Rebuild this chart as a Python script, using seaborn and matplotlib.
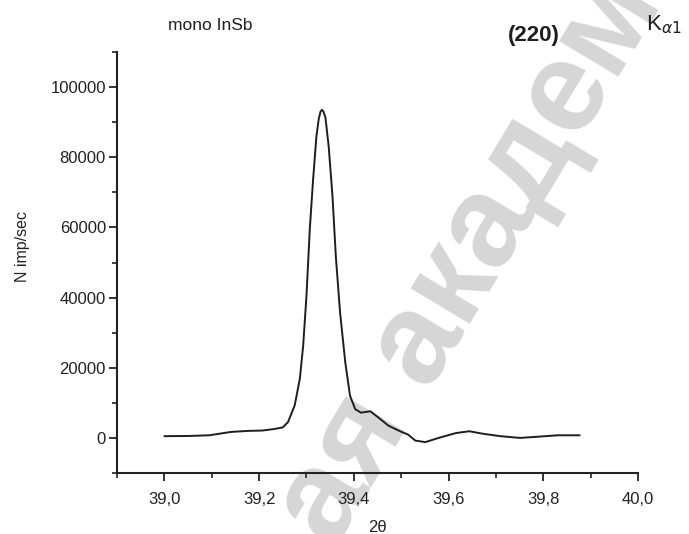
import numpy as np
import pandas as pd
import matplotlib
matplotlib.use("Agg")
import matplotlib.pyplot as plt
import seaborn as sns
from matplotlib.ticker import FixedLocator, MultipleLocator

# ---- data ----
two_theta = [39.000, 39.050, 39.095, 39.140, 39.176, 39.207, 39.233, 39.250,
             39.261, 39.275, 39.286, 39.293, 39.300, 39.307, 39.314, 39.321,
             39.326, 39.330, 39.333, 39.336, 39.340, 39.347, 39.355, 39.362,
             39.371, 39.382, 39.392, 39.403, 39.415, 39.435, 39.452, 39.473,
             39.501, 39.514, 39.530, 39.551, 39.579, 39.616, 39.644, 39.672,
             39.709, 39.751, 39.784, 39.830, 39.877]
intensity = [500, 550, 750, 1700, 2000, 2100, 2560, 3000,
             4500, 9200, 16800, 26200, 40400, 59400, 73600, 85900,
             91000, 93100, 93500, 93000, 91400, 83000, 68800, 51800,
             35700, 21500, 12000, 8200, 7200, 7600, 5800, 3500,
             1700, 1000, -760, -1200, 0, 1400, 1900, 1200,
             500, 0, 300, 750, 750]

x_ticks = [39.0, 39.2, 39.4, 39.6, 39.8, 40.0]
x_tick_labels = ["39,0", "39,2", "39,4", "39,6", "39,8", "40,0"]
y_ticks = [0, 20000, 40000, 60000, 80000, 100000]
y_tick_labels = ["0", "20000", "40000", "60000", "80000", "100000"]

sns.set_style("ticks")
plt.rcParams["font.family"] = ["Liberation Sans", "DejaVu Sans"]
plt.rcParams["mathtext.fontset"] = "dejavusans"

fig = plt.figure(figsize=(6.89, 5.34), dpi=100)
ax = fig.add_axes([117/689, 1-473/534, (638-117)/689, (473-52)/534])
ax.patch.set_alpha(0)

df = pd.DataFrame({"2theta": two_theta, "N": intensity})
sns.lineplot(data=df, x="2theta", y="N", ax=ax, color="#1e1e1e",
             linewidth=1.4, estimator=None, sort=True)

ax.set_xlim(38.9, 40.0)
ax.set_ylim(-10000, 110000)
ax.xaxis.set_major_locator(FixedLocator(x_ticks))
ax.set_xticklabels(x_tick_labels)
ax.xaxis.set_minor_locator(MultipleLocator(0.1))
ax.yaxis.set_major_locator(FixedLocator(y_ticks))
ax.set_yticklabels(y_tick_labels)
ax.yaxis.set_minor_locator(MultipleLocator(10000))

for s in ["top", "right"]:
    ax.spines[s].set_visible(False)
for s in ["left", "bottom"]:
    ax.spines[s].set_linewidth(1.5)
    ax.spines[s].set_color("#222222")

ax.tick_params(axis="both", which="major", direction="out", length=6,
               width=1.3, labelsize=12, colors="#222222")
ax.tick_params(axis="x", which="major", pad=8)
ax.tick_params(axis="y", which="major", pad=2)
ax.tick_params(axis="both", which="minor", direction="out", length=3.5,
               width=1.2, colors="#222222")

ax.set_xlabel("2\u03b8", fontsize=12, color="#222222")
ax.set_ylabel("N imp/sec", fontsize=11.5, color="#222222")
ax.xaxis.set_label_coords(0.5, -(527-473)/421, transform=ax.transAxes)
ax.xaxis.label.set_va("center")
ax.yaxis.set_label_coords((23-117)/521, (473-247)/421)
ax.yaxis.label.set_va("center")

fig.text(168/689, 1-30/534, "mono InSb", fontsize=12.5, ha="left",
         va="baseline", color="#1e1e1e")
fig.text(508/689, 1-41/534, "(220)", fontsize=16, fontweight="bold",
         ha="left", va="baseline", color="#1e1e1e")
fig.text(646/689, 1-30/534, r"K$_{\alpha1}$", fontsize=16, ha="left",
         va="baseline", color="#1e1e1e")

# watermark
fig.text(335/689, 1-550/534, "ая академия", fontsize=93, fontweight="bold",
         rotation=59, rotation_mode="anchor", ha="left", va="baseline",
         color="#d6d6d6", zorder=-1)

fig.savefig("out.png", dpi=100)
